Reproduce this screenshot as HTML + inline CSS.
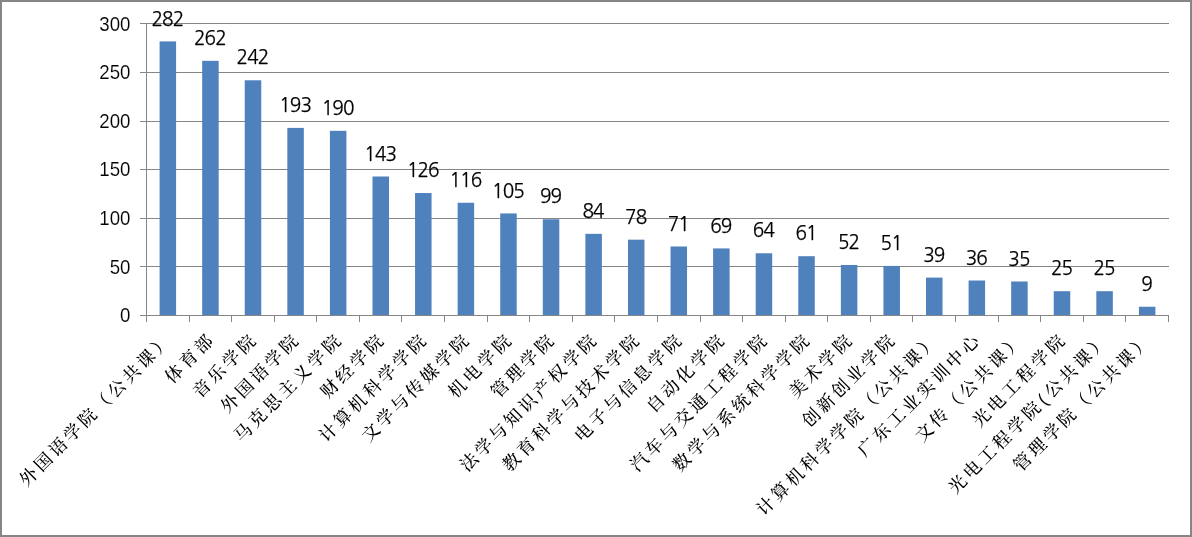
<!DOCTYPE html>
<html lang="zh-CN"><head><meta charset="utf-8"><title>chart</title>
<style>
html,body{margin:0;padding:0;background:#fff;overflow:hidden}
#chart{position:relative;width:1192px;height:537px;overflow:hidden;background:#fff}
svg{position:absolute;left:0;top:0;display:block;will-change:transform}
.ax{font-family:"Liberation Sans",sans-serif;font-size:18.67px;fill:#000;stroke:#fff;stroke-width:0.14px}
.dl{font-family:"NanumGothic","Liberation Sans",sans-serif;font-weight:400;font-size:19px;letter-spacing:-0.9px;fill:#000;stroke:#000;stroke-width:0.25px}
.cat{font-family:"Liberation Sans","Noto Serif CJK SC",serif;font-weight:500;font-size:17.5px;letter-spacing:3.3px;fill:#000}
</style></head><body>
<div id="chart">
<svg width="1192" height="537" viewBox="0 0 1192 537">
<rect x="1" y="1" width="1190" height="535" fill="#fff" stroke="#868686" stroke-width="2"/>

<g stroke="#868686" stroke-width="1" fill="none">
<line x1="140" y1="315.5" x2="147" y2="315.5"/>
<line x1="146" y1="266.5" x2="1169" y2="266.5"/>
<line x1="140" y1="266.5" x2="147" y2="266.5"/>
<line x1="146" y1="218.5" x2="1169" y2="218.5"/>
<line x1="140" y1="218.5" x2="147" y2="218.5"/>
<line x1="146" y1="169.5" x2="1169" y2="169.5"/>
<line x1="140" y1="169.5" x2="147" y2="169.5"/>
<line x1="146" y1="121.5" x2="1169" y2="121.5"/>
<line x1="140" y1="121.5" x2="147" y2="121.5"/>
<line x1="146" y1="72.5" x2="1169" y2="72.5"/>
<line x1="140" y1="72.5" x2="147" y2="72.5"/>
<line x1="146" y1="23.5" x2="1169" y2="23.5"/>
<line x1="140" y1="23.5" x2="147" y2="23.5"/>
</g>
<g fill="#4f81bd">
<rect x="159.59" y="41.40" width="16.50" height="274.10"/>
<rect x="202.17" y="60.84" width="16.50" height="254.66"/>
<rect x="244.75" y="80.28" width="16.50" height="235.22"/>
<rect x="287.33" y="127.90" width="16.50" height="187.60"/>
<rect x="329.91" y="130.82" width="16.50" height="184.68"/>
<rect x="372.49" y="176.50" width="16.50" height="139.00"/>
<rect x="415.06" y="193.03" width="16.50" height="122.47"/>
<rect x="457.64" y="202.75" width="16.50" height="112.75"/>
<rect x="500.22" y="213.44" width="16.50" height="102.06"/>
<rect x="542.8" y="219.27" width="16.50" height="96.23"/>
<rect x="585.38" y="233.85" width="16.50" height="81.65"/>
<rect x="627.96" y="239.68" width="16.50" height="75.82"/>
<rect x="670.54" y="246.49" width="16.50" height="69.01"/>
<rect x="713.12" y="248.43" width="16.50" height="67.07"/>
<rect x="755.7" y="253.29" width="16.50" height="62.21"/>
<rect x="798.28" y="256.21" width="16.50" height="59.29"/>
<rect x="840.86" y="264.96" width="16.50" height="50.54"/>
<rect x="883.44" y="265.93" width="16.50" height="49.57"/>
<rect x="926.01" y="277.59" width="16.50" height="37.91"/>
<rect x="968.59" y="280.51" width="16.50" height="34.99"/>
<rect x="1011.17" y="281.48" width="16.50" height="34.02"/>
<rect x="1053.75" y="291.20" width="16.50" height="24.30"/>
<rect x="1096.33" y="291.20" width="16.50" height="24.30"/>
<rect x="1138.91" y="306.75" width="16.50" height="8.75"/>
</g>
<g stroke="#868686" stroke-width="1" fill="none">
<line x1="146.5" y1="23" x2="146.5" y2="316"/>
<line x1="146" y1="315.5" x2="1169" y2="315.5"/>
<line x1="146.5" y1="315" x2="146.5" y2="322"/>
<line x1="189.5" y1="315" x2="189.5" y2="322"/>
<line x1="231.5" y1="315" x2="231.5" y2="322"/>
<line x1="274.5" y1="315" x2="274.5" y2="322"/>
<line x1="316.5" y1="315" x2="316.5" y2="322"/>
<line x1="359.5" y1="315" x2="359.5" y2="322"/>
<line x1="401.5" y1="315" x2="401.5" y2="322"/>
<line x1="444.5" y1="315" x2="444.5" y2="322"/>
<line x1="487.5" y1="315" x2="487.5" y2="322"/>
<line x1="529.5" y1="315" x2="529.5" y2="322"/>
<line x1="572.5" y1="315" x2="572.5" y2="322"/>
<line x1="614.5" y1="315" x2="614.5" y2="322"/>
<line x1="657.5" y1="315" x2="657.5" y2="322"/>
<line x1="700.5" y1="315" x2="700.5" y2="322"/>
<line x1="742.5" y1="315" x2="742.5" y2="322"/>
<line x1="785.5" y1="315" x2="785.5" y2="322"/>
<line x1="827.5" y1="315" x2="827.5" y2="322"/>
<line x1="870.5" y1="315" x2="870.5" y2="322"/>
<line x1="912.5" y1="315" x2="912.5" y2="322"/>
<line x1="955.5" y1="315" x2="955.5" y2="322"/>
<line x1="998.5" y1="315" x2="998.5" y2="322"/>
<line x1="1040.5" y1="315" x2="1040.5" y2="322"/>
<line x1="1083.5" y1="315" x2="1083.5" y2="322"/>
<line x1="1125.5" y1="315" x2="1125.5" y2="322"/>
<line x1="1168.5" y1="315" x2="1168.5" y2="322"/>
</g>
<g class="ax" text-anchor="end">
<text transform="translate(130.5 322.10) scale(1 1.07)">0</text>
<text transform="translate(130.5 273.50) scale(1 1.07)">50</text>
<text transform="translate(130.5 224.90) scale(1 1.07)">100</text>
<text transform="translate(130.5 176.30) scale(1 1.07)">150</text>
<text transform="translate(130.5 127.70) scale(1 1.07)">200</text>
<text transform="translate(130.5 79.10) scale(1 1.07)">250</text>
<text transform="translate(130.5 30.50) scale(1 1.07)">300</text>
</g>
<g class="dl" text-anchor="middle">
<text x="167.34" y="25.60">282</text>
<text x="209.92" y="45.04">262</text>
<text x="252.50" y="64.48">242</text>
<text x="295.08" y="112.10">193</text>
<text x="337.66" y="115.02">190</text>
<text x="380.24" y="160.70">143</text>
<text x="422.81" y="177.23">126</text>
<text x="465.39" y="186.95">116</text>
<text x="507.97" y="197.64">105</text>
<text x="550.55" y="203.47">99</text>
<text x="593.13" y="218.05">84</text>
<text x="635.71" y="223.88">78</text>
<text x="678.29" y="230.69">71</text>
<text x="720.87" y="232.63">69</text>
<text x="763.45" y="237.49">64</text>
<text x="806.03" y="240.41">61</text>
<text x="848.61" y="249.16">52</text>
<text x="891.19" y="250.13">51</text>
<text x="933.76" y="261.79">39</text>
<text x="976.34" y="264.71">36</text>
<text x="1018.92" y="265.68">35</text>
<text x="1061.50" y="275.40">25</text>
<text x="1104.08" y="275.40">25</text>
<text x="1146.66" y="290.95">9</text>
</g>
<g class="cat" text-anchor="end">
<text transform="translate(173.79 340.10) rotate(-45)" x="0" y="0">外国语学院（公共课）</text>
<text transform="translate(216.37 340.10) rotate(-45)" x="0" y="0">体育部</text>
<text transform="translate(258.95 340.10) rotate(-45)" x="0" y="0">音乐学院</text>
<text transform="translate(301.53 340.10) rotate(-45)" x="0" y="0">外国语学院</text>
<text transform="translate(344.11 340.10) rotate(-45)" x="0" y="0">马克思主义学院</text>
<text transform="translate(386.69 340.10) rotate(-45)" x="0" y="0">财经学院</text>
<text transform="translate(429.26 340.10) rotate(-45)" x="0" y="0">计算机科学学院</text>
<text transform="translate(471.84 340.10) rotate(-45)" x="0" y="0">文学与传媒学院</text>
<text transform="translate(514.42 340.10) rotate(-45)" x="0" y="0">机电学院</text>
<text transform="translate(557.00 340.10) rotate(-45)" x="0" y="0">管理学院</text>
<text transform="translate(599.58 340.10) rotate(-45)" x="0" y="0">法学与知识产权学院</text>
<text transform="translate(642.16 340.10) rotate(-45)" x="0" y="0">教育科学与技术学院</text>
<text transform="translate(684.74 340.10) rotate(-45)" x="0" y="0">电子与信息学院</text>
<text transform="translate(727.32 340.10) rotate(-45)" x="0" y="0">自动化学院</text>
<text transform="translate(769.90 340.10) rotate(-45)" x="0" y="0">汽车与交通工程学院</text>
<text transform="translate(812.48 340.10) rotate(-45)" x="0" y="0">数学与系统科学学院</text>
<text transform="translate(855.06 340.10) rotate(-45)" x="0" y="0">美术学院</text>
<text transform="translate(897.64 340.10) rotate(-45)" x="0" y="0">创新创业学院</text>
<text transform="translate(940.21 340.10) rotate(-45)" x="0" y="0">计算机科学学院（公共课）</text>
<text transform="translate(982.79 340.10) rotate(-45)" x="0" y="0">广东工业实训中心</text>
<text transform="translate(1025.37 340.10) rotate(-45)" x="0" y="0">文传（公共课）</text>
<text transform="translate(1067.95 340.10) rotate(-45)" x="0" y="0">光电工程学院</text>
<text transform="translate(1110.53 340.10) rotate(-45)" x="0" y="0">光电工程学院<tspan dx="0.8">(</tspan><tspan dx="0.8">公共课）</tspan></text>
<text transform="translate(1153.11 340.10) rotate(-45)" x="0" y="0">管理学院（公共课）</text>
</g>
</svg>
</div>
</body></html>
